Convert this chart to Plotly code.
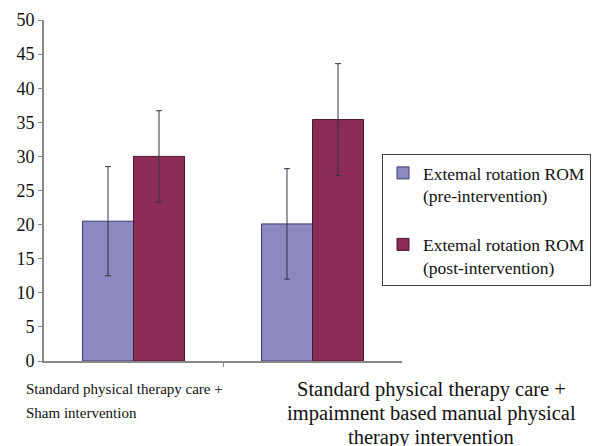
import plotly.graph_objects as go

categories = ["Standard physical therapy care +<br>Sham intervention",
              "Standard physical therapy care +<br>impaimnent based manual physical<br>therapy intervention"]
series_names = ["Extemal rotation ROM<br>(pre-intervention)",
                "Extemal rotation ROM<br>(post-intervention)"]
pre_values = [20.5, 20.1]
pre_err = [8.0, 8.1]
post_values = [30.0, 35.4]
post_err = [6.7, 8.2]
y_ticks = [0, 5, 10, 15, 20, 25, 30, 35, 40, 45, 50]

SERIF = "Liberation Serif"
x_idx = [0, 1]
ML, MR, MT, MB = 44, 198, 20, 85
W, H = 600, 446
pw, ph = W - ML - MR, H - MT - MB

fig = go.Figure()
fig.add_trace(go.Bar(
    x=x_idx, y=pre_values, name=series_names[0], legendgroup="a",
    marker=dict(color="#8C88C0", line=dict(color="#3E3A6E", width=1)),
    error_y=dict(type="data", array=pre_err, color="#333344", thickness=1, width=3),
))
fig.add_trace(go.Bar(
    x=x_idx, y=post_values, name=series_names[1], legendgroup="b",
    marker=dict(color="#8B2C57", line=dict(color="#4A1530", width=1)),
    error_y=dict(type="data", array=post_err, color="#333344", thickness=1, width=3),
))

fig.update_layout(
    width=W, height=H,
    margin=dict(l=ML, r=MR, t=MT, b=MB, autoexpand=False),
    plot_bgcolor="white", paper_bgcolor="white",
    barmode="group", bargap=0.43, bargroupgap=0,
    font=dict(family=SERIF, color="#111111"),
    showlegend=True,
    legend=dict(
        x=(382 - ML) / pw, y=(H - MB - 154) / ph, xanchor="left", yanchor="top",
        bordercolor="#444444", borderwidth=1, bgcolor="white",
        font=dict(family=SERIF, size=17.5, color="#111111"),
        tracegroupgap=23, valign="top",
    ),
    xaxis=dict(
        range=[-0.5, 1.5], tickmode="array", tickvals=[0.5], ticktext=[""],
        ticks="outside", ticklen=4, tickcolor="#888888",
        showline=True, linecolor="#888888", linewidth=2,
        showgrid=False, zeroline=False, automargin=False,
    ),
    yaxis=dict(
        range=[0, 50], tickmode="array", tickvals=y_ticks,
        ticks="outside", ticklen=4, tickcolor="#888888",
        showline=True, linecolor="#888888", linewidth=2,
        showgrid=False, zeroline=False, automargin=False,
        tickfont=dict(family=SERIF, size=18, color="#111111"),
    ),
)

# category labels, one annotation per line to match the reference's line spacing
label_specs = [
    dict(x=24, anchor="left", size=15, tops=[389, 413]),
    dict(x=431, anchor="center", size=20.5, tops=[389, 413, 437]),
]
for text, spec in zip(categories, label_specs):
    for line, yc in zip(text.split("<br>"), spec["tops"]):
        fig.add_annotation(x=(spec["x"] - ML) / pw, y=(H - MB - yc) / ph,
                           xref="paper", yref="paper", text=line, showarrow=False,
                           xanchor=spec["anchor"], yanchor="middle",
                           font=dict(family=SERIF, size=spec["size"], color="#111111"))

fig.write_html("out.html", config={"displayModeBar": False})

# remove the browser's default page margin so the figure sits at the window's corner
with open("out.html", "r", encoding="utf-8") as f:
    html = f.read()
html = html.replace("<head>", "<head><style>html,body{margin:0;padding:0;overflow:hidden;}</style>", 1)
with open("out.html", "w", encoding="utf-8") as f:
    f.write(html)
